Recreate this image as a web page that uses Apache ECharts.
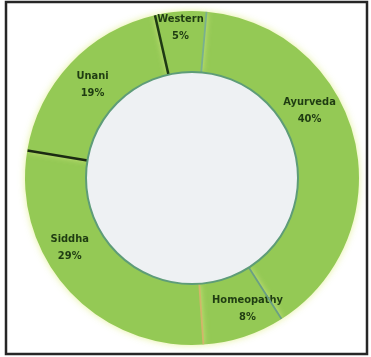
<!DOCTYPE html>
<html>
<head>
<meta charset="utf-8">
<script src="https://cdn.jsdelivr.net/npm/echarts@6/dist/echarts.min.js"></script>
<style>
  html, body { margin: 0; padding: 0; background: #ffffff; }
  #chart { width: 371px; height: 357px; }
</style>
</head>
<body>
<div id="chart"></div>
<script>
// Share of practitioners by system of medicine (%)
const categories = ['Ayurveda', 'Homeopathy', 'Siddha', 'Unani', 'Western'];
const shares = [40, 8, 29, 19, 5];
// Colour of the divider drawn where each slice begins
const dividerColors = ['#79b08f', '#6a9f84', '#d2b56a', '#1b2a12', '#1e3a14'];

const CENTER = [192, 178];
const R_IN = 106;
const R_OUT = 167;
const START = 85;

// nudges for the in-ring labels so they sit clear of the dividers
const labelNudge = {
  Ayurveda: [-18, -34],
  Homeopathy: [12, -2],
  Siddha: [-19, -24],
  Unani: [2, 2],
  Western: [-2, -11]
};

const total = shares.reduce((a, b) => a + b, 0);

// cumulative boundaries (start of each slice)
const bounds = [];
let acc = 0;
shares.forEach(v => { bounds.push(acc); acc += v; });

const dividerSeries = bounds.map((b, i) => ({
  type: 'line',
  coordinateSystem: 'polar',
  data: [[0, b], [1, b]],
  symbol: 'none',
  silent: true,
  z: 5,
  lineStyle: { color: dividerColors[i], width: i >= 3 ? 2.5 : 1.8 }
}));

const chart = echarts.init(document.getElementById('chart'), null, { renderer: 'canvas' });
chart.setOption({
  animation: false,
  backgroundColor: '#ffffff',
  polar: { center: CENTER, radius: [R_IN, R_OUT] },
  angleAxis: { type: 'value', min: 0, max: total, startAngle: START, clockwise: true, show: false },
  radiusAxis: { type: 'value', min: 0, max: 1, show: false },
  graphic: [
    {
      type: 'rect',
      shape: { x: 6, y: 2, width: 361, height: 352 },
      style: { fill: 'none', stroke: '#262626', lineWidth: 2.5 },
      z: 100
    },
    {
      type: 'circle',
      shape: { cx: CENTER[0], cy: CENTER[1], r: R_IN },
      style: { fill: '#eef1f3', stroke: '#5e9c78', lineWidth: 2 },
      z: 50
    }
  ],
  series: [
    {
      type: 'pie',
      center: CENTER,
      radius: [R_IN, R_OUT],
      startAngle: START,
      clockwise: true,
      silent: true,
      z: 2,
      itemStyle: {
        color: '#94c955',
        borderWidth: 0,
        shadowBlur: 7,
        shadowColor: 'rgba(225,238,140,0.85)'
      },
      label: {
        show: true,
        position: 'inside',
        formatter: p => p.name + '\n' + p.value + '%',
        fontFamily: '"Liberation Sans Narrow", "DejaVu Sans Condensed", sans-serif',
        fontWeight: 'bold',
        fontSize: 11,
        lineHeight: 17,
        color: '#1f3c12'
      },
      labelLine: { show: false },
      data: categories.map((c, i) => ({
        name: c,
        value: shares[i],
        label: { offset: labelNudge[c] }
      }))
    },
    ...dividerSeries
  ]
});
</script>
</body>
</html>
